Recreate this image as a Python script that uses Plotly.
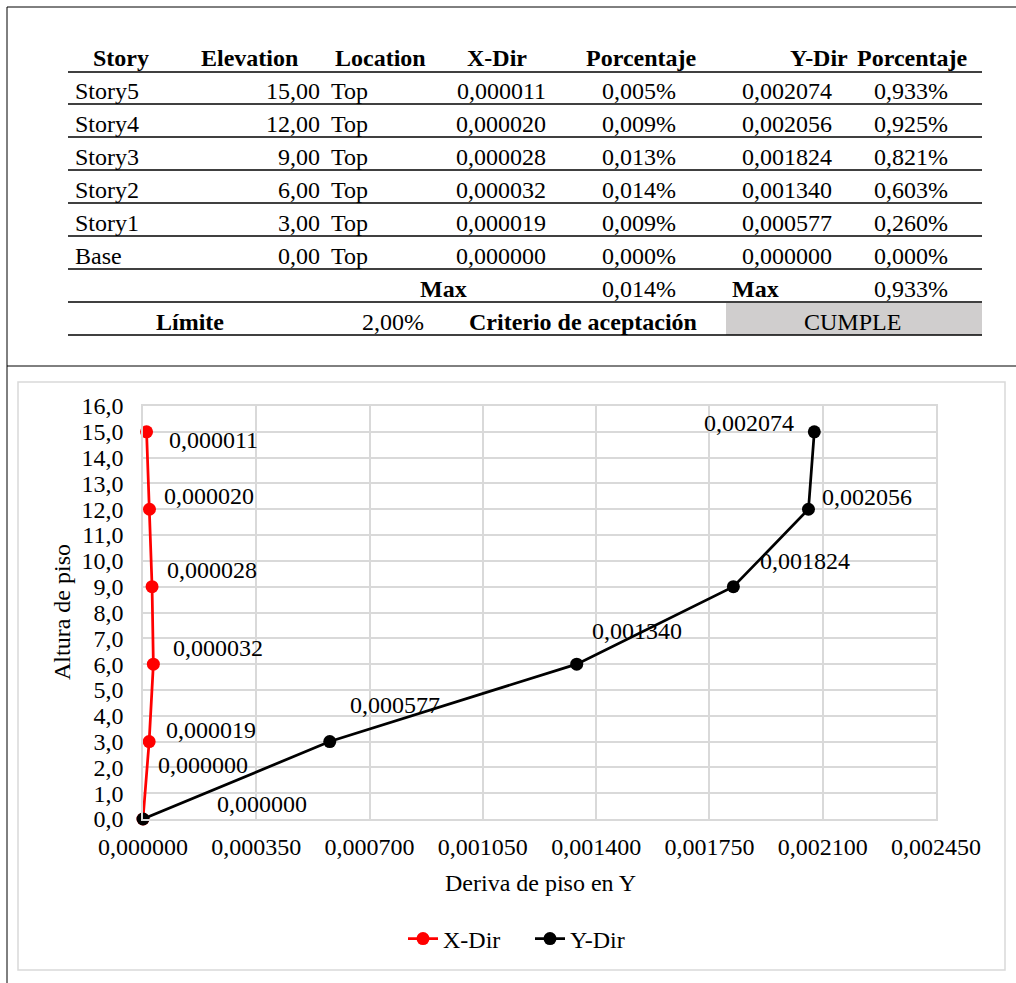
import plotly.graph_objects as go

W, H = 1016, 983

# ---------------- data ----------------
stories = ["Story5", "Story4", "Story3", "Story2", "Story1", "Base"]
elevation = [15.0, 12.0, 9.0, 6.0, 3.0, 0.0]
location = ["Top", "Top", "Top", "Top", "Top", "Top"]
x_dir = [0.000011, 0.000020, 0.000028, 0.000032, 0.000019, 0.000000]
x_pct = [0.005, 0.009, 0.013, 0.014, 0.009, 0.000]
y_dir = [0.002074, 0.002056, 0.001824, 0.001340, 0.000577, 0.000000]
y_pct = [0.933, 0.925, 0.821, 0.603, 0.260, 0.000]
x_max_pct = 0.014
y_max_pct = 0.933
limite_pct = 2.00
criterio = "CUMPLE"
headers = ["Story", "Elevation", "Location", "X-Dir", "Porcentaje", "Y-Dir", "Porcentaje"]
x_tickvals = [0.0, 0.00035, 0.00070, 0.00105, 0.00140, 0.00175, 0.00210, 0.00245]
y_tickvals = [float(v) for v in range(0, 17)]

FONT = "Liberation Serif"
FS = 24
TFS = 24


def fmt(v, d):
    return f"{v:.{d}f}".replace(".", ",")


def px(x):
    return x / W


def py(y):
    return 1 - y / H


fig = go.Figure()

# ---------------- chart traces ----------------
fig.add_trace(go.Scatter(
    x=x_dir, y=elevation, mode="lines+markers", name="X-Dir",
    line=dict(color="#ff0000", width=2.75),
    marker=dict(color="#ff0000", size=13),
    cliponaxis=False,
))
fig.add_trace(go.Scatter(
    x=y_dir, y=elevation, mode="lines+markers", name="Y-Dir",
    line=dict(color="#000000", width=2.75),
    marker=dict(color="#000000", size=13),
    cliponaxis=False,
))

annotations = []

# data labels (offsets in pixels relative to each point)
x_label_shift = [(67, -8), (60, 13), (60, 17), (65, 16), (62, 12), (60, 54)]
y_label_shift = [(-65, 9), (59, 12), (72, 26), (60, 33), (65, 37), (119, 15)]
for xv, yv, (dx, dy) in zip(x_dir, elevation, x_label_shift):
    annotations.append(dict(x=xv, y=yv, xref="x", yref="y", text=fmt(xv, 6),
                            showarrow=False, xshift=dx, yshift=dy,
                            font=dict(family=FONT, size=FS, color="black")))
for xv, yv, (dx, dy) in zip(y_dir, elevation, y_label_shift):
    annotations.append(dict(x=xv, y=yv, xref="x", yref="y", text=fmt(xv, 6),
                            showarrow=False, xshift=dx, yshift=dy,
                            font=dict(family=FONT, size=FS, color="black")))

# axis titles
annotations.append(dict(x=px(62), y=py(612), xref="paper", yref="paper",
                        text="Altura de piso", textangle=-90, showarrow=False,
                        xanchor="center", yanchor="middle",
                        font=dict(family=FONT, size=FS, color="black")))
annotations.append(dict(x=px(540), y=py(883), xref="paper", yref="paper",
                        text="Deriva de piso en Y", showarrow=False,
                        xanchor="center", yanchor="middle",
                        font=dict(family=FONT, size=FS, color="black")))

# ---------------- table ----------------
def tbl(text, x, y, anchor="center", bold=False):
    annotations.append(dict(x=px(x), y=py(y), xref="paper", yref="paper",
                            text=f"<b>{text}</b>" if bold else text,
                            showarrow=False, xanchor=anchor, yanchor="middle",
                            font=dict(family=FONT, size=TFS, color="black")))


header_x = [121, 249, 380, 497, 641, 819, 912]
for h, hx in zip(headers, header_x):
    tbl(h, hx, 58, bold=True)

row_y0, row_step = 91, 33
for i in range(len(stories)):
    yy = row_y0 + i * row_step
    tbl(stories[i], 73, yy, "left")
    tbl(fmt(elevation[i], 2), 322, yy, "right")
    tbl(location[i], 329, yy, "left")
    tbl(fmt(x_dir[i], 6), 501, yy)
    tbl(fmt(x_pct[i], 3) + "%", 639, yy)
    tbl(fmt(y_dir[i], 6), 787, yy)
    tbl(fmt(y_pct[i], 3) + "%", 911, yy)

ymax_row = row_y0 + 6 * row_step
tbl("Max", 443, ymax_row, bold=True)
tbl(fmt(x_max_pct, 3) + "%", 639, ymax_row)
tbl("Max", 730, ymax_row, "left", bold=True)
tbl(fmt(y_max_pct, 3) + "%", 911, ymax_row)

ylim_row = row_y0 + 7 * row_step
tbl("Límite", 190, ylim_row, bold=True)
tbl(fmt(limite_pct, 2) + "%", 426, ylim_row, "right")
tbl("Criterio de aceptación", 583, ylim_row, bold=True)
tbl(criterio, 852, ylim_row)

shapes = []
# gray fill for CUMPLE
shapes.append(dict(type="rect", xref="paper", yref="paper",
                   x0=px(726), x1=px(982), y0=py(303), y1=py(335),
                   fillcolor="#d0cece", line=dict(width=0), layer="below"))
for ly in [72, 104, 137, 170, 203, 236, 269, 302, 335]:
    shapes.append(dict(type="line", xref="paper", yref="paper",
                       x0=px(68), x1=px(982), y0=py(ly), y1=py(ly),
                       line=dict(color="black", width=1.5)))

# outer frame lines
shapes.append(dict(type="line", xref="paper", yref="paper",
                   x0=px(7), x1=1, y0=py(7), y1=py(7), line=dict(color="black", width=1)))
shapes.append(dict(type="line", xref="paper", yref="paper",
                   x0=px(7), x1=px(7), y0=py(7), y1=0, line=dict(color="black", width=1)))
shapes.append(dict(type="line", xref="paper", yref="paper",
                   x0=px(7), x1=1, y0=py(366), y1=py(366), line=dict(color="black", width=1)))
# chart area border
shapes.append(dict(type="rect", xref="paper", yref="paper",
                   x0=px(18), x1=px(1005), y0=py(382), y1=py(970),
                   line=dict(color="#d9d9d9", width=1.5), fillcolor="rgba(0,0,0,0)"))

fig.update_layout(
    width=W, height=H, autosize=False,
    margin=dict(l=0, r=0, t=0, b=0, pad=0, autoexpand=False),
    paper_bgcolor="white", plot_bgcolor="white",
    separators=",.",
    font=dict(family=FONT, size=FS, color="black"),
    showlegend=True,
    legend=dict(orientation="h", x=px(530), y=py(939), xanchor="center", yanchor="middle",
                entrywidth=82, entrywidthmode="pixels",
                font=dict(family=FONT, size=FS, color="black"), bgcolor="rgba(0,0,0,0)"),
    xaxis=dict(domain=[px(143), px(936)], range=[0, 0.00245], automargin=False,
               tickvals=x_tickvals, tickformat=".6f",
               showgrid=True, gridcolor="#d9d9d9", gridwidth=1.5,
               zeroline=False, showline=True, linecolor="#d9d9d9", linewidth=1.5, mirror=True,
               ticks="", ticklabelstandoff=5,
               tickfont=dict(family=FONT, size=FS, color="black")),
    yaxis=dict(domain=[py(819), py(406)], range=[0, 16], automargin=False,
               tickvals=y_tickvals, tickformat=".1f",
               showgrid=True, gridcolor="#d9d9d9", gridwidth=1.5,
               zeroline=False, showline=True, linecolor="#d9d9d9", linewidth=1.5, mirror=True,
               ticks="", ticklabelstandoff=13,
               tickfont=dict(family=FONT, size=FS, color="black")),
    annotations=annotations,
    shapes=shapes,
)

fig.write_html("out.html")
